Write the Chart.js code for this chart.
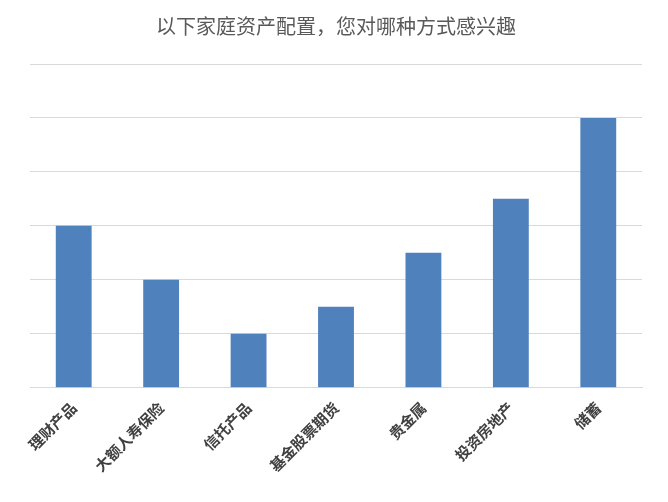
<!DOCTYPE html>
<html>
<head>
<meta charset="utf-8">
<script src="https://cdn.jsdelivr.net/npm/chart.js@4"></script>
<style>
body { margin: 0; background: #fff; }
#wrap { width: 668px; height: 502px; }
</style>
</head>
<body>
<div id="wrap"><canvas id="c"></canvas></div>
<script>
// 分类与数值
const categories = ['理财产品', '大额人寿保险', '信托产品', '基金股票期货', '贵金属', '投资房地产', '储蓄'];
const values = [3, 2, 1, 1.5, 2.5, 3.5, 5];
const yMax = 6;

new Chart(document.getElementById('c'), {
    type: 'bar',
    data: {
        labels: categories,
        datasets: [{
            data: values,
            backgroundColor: '#4f81bd',
            barPercentage: 0.41,
            categoryPercentage: 1
        }]
    },
    options: {
        responsive: true,
        maintainAspectRatio: false,
        animation: false,
        layout: { padding: { left: 30, right: 26, top: 4, bottom: 24 } },
        plugins: {
            legend: { display: false },
            tooltip: { enabled: false },
            title: {
                display: true,
                text: '以下家庭资产配置，您对哪种方式感兴趣',
                color: '#595959',
                font: { family: 'Noto Sans CJK SC', size: 20, weight: 'normal' },
                padding: { top: 10, bottom: 26 }
            }
        },
        scales: {
            x: {
                grid: { display: false },
                border: { color: '#d9d9d9' },
                ticks: {
                    color: '#404040',
                    maxRotation: 45,
                    minRotation: 45,
                    font: { family: 'Noto Sans CJK SC', size: 15, weight: 'bold' }
                }
            },
            y: {
                min: 0,
                max: yMax,
                ticks: { display: false, stepSize: 1 },
                grid: { color: '#d9d9d9', drawTicks: false },
                border: { display: false }
            }
        }
    }
});
</script>
</body>
</html>
